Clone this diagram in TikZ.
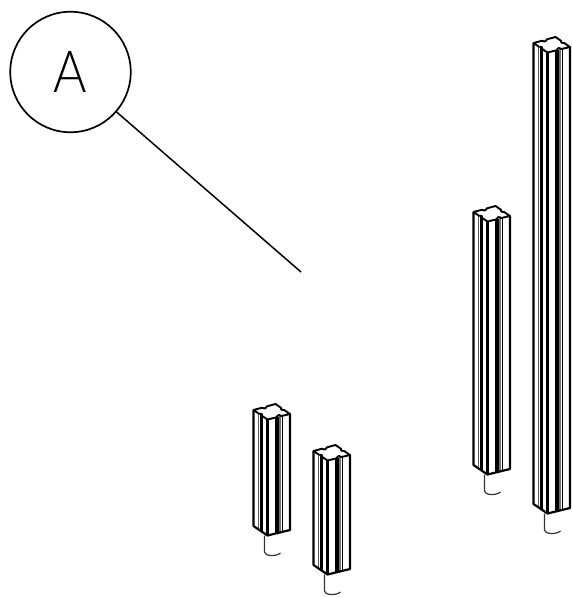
\documentclass[tikz,border=0pt]{standalone}
\usepackage{fontspec}
\newfontfamily\lightfont{Lato Light}
\tikzset{
  x=1pt,y=-1pt,
  outline/.style={draw=black,line width=2.2pt,line join=round},
  topface/.style={draw=black,fill=white,line width=1.9pt,line join=round},
  bubble/.style={circle,draw=black,line width=1.7pt,minimum size=120.5pt,inner sep=0pt,font=\lightfont\fontsize{58}{58}\selectfont},
  leader/.style={draw=black,line width=1.5pt},
  pin/.style={draw=black!80,line width=1.2pt},
}
% #1 x of left corner, #2 y of left corner, #3 height
\newcommand{\postdraw}[3]{%
  \begin{scope}[shift={(#1,#2)}]
    \fill[white] (0,0) -- (14,9.5) -- (36.5,4) -- (36.5,4+#3) -- (14,9.5+#3) -- (0,#3) -- cycle;
    \foreach \dx/\wd/\col in {5/1.6/black!65,7.6/3/black,23.3/4.6/black,26.6/2.2/black!55,28.9/1.6/black}{
      \pgfmathsetmacro{\yo}{\dx<14 ? \dx*9.5/14 : 9.5-(\dx-14)*5.5/22.5}
      \draw[line width=\wd pt,\col] (\dx,\yo) -- (\dx,\yo+#3);
    }
    \draw[outline] (0,0) -- (0,#3) -- (14,9.5+#3) -- (36.5,4+#3) -- (36.5,4);
    \draw[line width=2.1pt] (14,9.5) -- (14,9.5+#3);
    \draw[topface] (0,0) -- (8.5,-2.3) .. controls (10,-.8) and (12,-1) .. (13.5,-3.7) -- (22,-6)
      -- (27.5,-2.2) .. controls (26.5,-.8) and (28,.4) .. (30.8,.1) -- (36.5,4)
      -- (28,6) .. controls (26.5,4.5) and (24.5,4.5) .. (23,7.3) -- (14,9.5)
      -- (8.6,5.9) .. controls (9.8,4.5) and (8,3) .. (5.4,3.7) -- cycle;
    \draw[pin] (11,9.5+#3) -- (11,26+#3) .. controls (11,30+#3) and (22,31+#3) .. (27,27+#3);
  \end{scope}}
\begin{document}
\begin{tikzpicture}
  \useasboundingbox (0,0) rectangle (571,597);
  \node[bubble] (bub) at (70.5,72) {\scalebox{0.88}[1]{A}};
  \coordinate (tail) at (301,272);
  \draw[leader] (bub) -- (tail);
  \postdraw{253.5}{410}{116}
  \postdraw{313.5}{451}{114}
  \postdraw{473.5}{212}{253}
  \postdraw{533.5}{43}{461}
\end{tikzpicture}
\end{document}
